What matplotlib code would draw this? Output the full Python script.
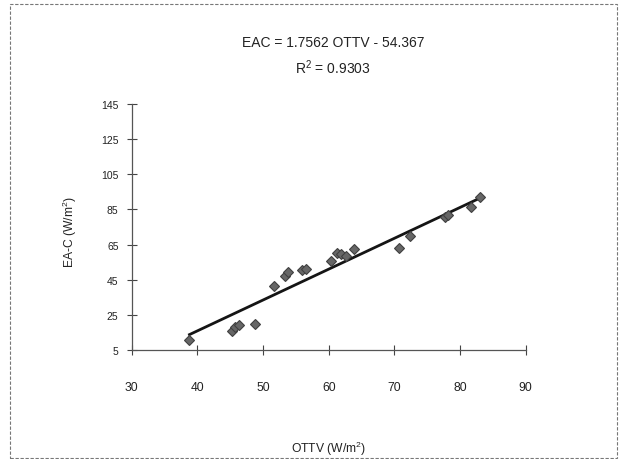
import matplotlib

matplotlib.use("Agg")

import matplotlib.pyplot as plt
import numpy as np
from matplotlib.patches import Rectangle

plt.rcParams["font.family"] = ["Liberation Sans", "DejaVu Sans"]
plt.rcParams["mathtext.default"] = "regular"

# scatter points (OTTV, EA-C)
ottv = [38.8, 45.3, 45.8, 46.3, 48.8, 51.7, 53.3, 53.8, 56.0, 56.6,
        60.4, 61.3, 61.9, 62.6, 63.8, 70.7, 72.4, 77.7, 78.2, 81.7, 83.0]
eac = [10.5, 16.0, 18.0, 19.5, 19.8, 41.2, 47.0, 49.6, 50.5, 51.0,
       55.5, 60.4, 59.4, 58.6, 62.7, 62.9, 69.7, 80.5, 81.8, 86.6, 91.9]

# trendline as printed on the chart
slope = 1.7562
intercept = -54.367
r_squared = 0.9303

x_ticks = [30, 40, 50, 60, 70, 80, 90]
y_ticks = [5, 25, 45, 65, 85, 105, 125, 145]

W, H = 619, 460
fig = plt.figure(figsize=(W / 100, H / 100), dpi=100)
fig.patch.set_facecolor("white")

# axes box in pixel coords of the reference
left, right, top, bottom = 131.7, 525.7, 105, 351
ax = fig.add_axes([left / W, 1 - bottom / H, (right - left) / W, (bottom - top) / H])

x_fit = np.array([min(ottv), max(ottv)])
ax.plot(x_fit, slope * x_fit + intercept, color="#151515", lw=2.0, zorder=2)
ax.plot(ottv, eac, linestyle="none", marker="D", ms=4.8,
        color="#666666", mec="#404040", mew=0.8, zorder=3)

ax.set_xlim(x_ticks[0], x_ticks[-1])
ax.set_ylim(y_ticks[0], y_ticks[-1])
ax.set_xticks(x_ticks)
ax.set_yticks(y_ticks)

for side in ("top", "right"):
    ax.spines[side].set_visible(False)
for side in ("left", "bottom"):
    ax.spines[side].set_color("#555555")
    ax.spines[side].set_linewidth(0.9)
    ax.spines[side].set_linestyle((0, (2.5, 1)))

ax.tick_params(axis="both", direction="inout", length=7, width=0.8, color="#444444")
ax.tick_params(axis="x", labelsize=8.7, pad=19, labelcolor="#222222")
ax.tick_params(axis="y", labelsize=7.5, pad=6, labelcolor="#222222")

fig.text(333 / W, 1 - 43 / H, f"EAC = {slope} OTTV - {abs(intercept)}",
         ha="center", va="center", fontsize=10, color="#222222")
fig.text(333 / W, 1 - 68 / H, f"R$^{{2}}$ = {r_squared}",
         ha="center", va="center", fontsize=10, color="#222222")
fig.text(329 / W, 1 - 449 / H, "OTTV (W/m$^{2}$)",
         ha="center", va="center", fontsize=8.7, color="#222222")
fig.text(70 / W, 1 - 232 / H, "EA-C (W/m$^{2}$)", rotation=90,
         ha="center", va="center", fontsize=8.7, color="#222222")

# dashed chart-area border
fig.patches.append(Rectangle((10 / W, 1.5 / H), 607 / W, 454 / H,
                             transform=fig.transFigure, fill=False,
                             edgecolor="#777777", lw=0.8,
                             linestyle=(0, (3, 1.5))))

fig.savefig("out.png", dpi=100)
